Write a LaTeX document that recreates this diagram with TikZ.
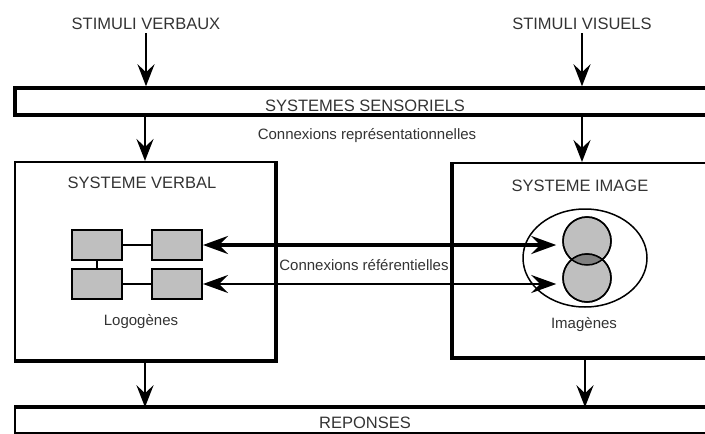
\documentclass[tikz,border=0pt]{standalone}
\usepackage{fontspec}
\setmainfont{Liberation Sans}
\usetikzlibrary{arrows.meta,shapes.geometric}

\begin{document}
\begin{tikzpicture}[x=1pt, y=-1pt,
    caps/.style={text=black!80, font=\fontsize{16.5}{18}\selectfont},
    small/.style={text=black!80, font=\fontsize{15}{17}\selectfont},
    arr/.style={line width=2.5, -{Stealth[length=22pt, width=17pt, inset=8pt]}},
    logo/.style={draw, line width=2, fill=black!25, minimum width=50, minimum height=30},
    blob/.style={circle, draw, line width=1.5, fill=black!25, minimum size=48}]
    \useasboundingbox (0,0) rectangle (705,434);

    \node[caps] (stverb) at (146,24) {STIMULI VERBAUX};
    \node[caps] (stvis) at (582,24) {STIMULI VISUELS};

    \node[draw, line width=3.5, minimum width=697, minimum height=27] (sens) at (363.5,101.5) {};
    \node[caps] (senstext) at (365,106) {SYSTEMES SENSORIELS};
    \node[small] (conrep) at (367,136) {Connexions représentationnelles};

    \node[draw, line width=2, minimum width=260, minimum height=198] (verbal) at (145,261) {};
    \draw[line width=4.5] (verbal.north east) -- (verbal.south east) -- (verbal.south west);
    \node[caps] (verbtitle) at (142,183) {SYSTEME VERBAL};

    \node[draw, line width=2, minimum width=259, minimum height=194] (image) at (582.5,260) {};
    \draw[line width=4.5] (image.north west) -- (image.south west) -- (image.south east);
    \node[caps] (imgtitle) at (580,186) {SYSTEME IMAGE};

    \node[logo] (logoA) at (97,245) {};
    \node[logo] (logoB) at (177,245) {};
    \node[logo] (logoC) at (97,284) {};
    \node[logo] (logoD) at (177,284) {};
    \draw[line width=1.5] (logoA) -- (logoB);
    \draw[line width=1.5] (logoC) -- (logoD);
    \draw[line width=1.5] (logoA) -- (logoC);
    \node[small] (logtext) at (141,322) {Logogènes};

    \node[draw, line width=1.5, ellipse, inner sep=0, minimum width=124, minimum height=98] (imgset) at (585,258) {};
    \node[blob] (imgup) at (587,241) {};
    \node[blob] (imglow) at (587,278) {};
    \begin{scope}
        \clip (587,241) circle (24);
        \fill[black!50] (587,278) circle (24);
    \end{scope}
    \draw[line width=1.5] (587,241) circle (24);
    \draw[line width=1.5] (587,278) circle (24);
    \node[small] (imgtext) at (584,325) {Imagènes};

    \draw[line width=4, {Stealth[length=25pt, width=18pt, inset=9pt]}-{Stealth[length=25pt, width=18pt, inset=9pt]}, shorten >=6]
        (logoB.east) -- (logoB.east -| imgup.west);
    \draw[line width=2, {Stealth[length=25pt, width=18pt, inset=9pt]}-{Stealth[length=25pt, width=18pt, inset=9pt]}, shorten >=6]
        (logoD.east) -- (logoD.east -| imglow.west);
    \node[small] (conref) at (364,265) {Connexions référentielles};

    \node[draw, line width=1.5, minimum width=697, minimum height=25] (rep) at (363.5,420.5) {};
    \draw[line width=4] (rep.north west) -- (rep.north east);
    \node[caps] (reptext) at (365,423) {REPONSES};

    \draw[arr] (stverb.south) -- (stverb.south |- sens.north);
    \draw[arr] (stvis.south) -- (stvis.south |- sens.north);
    \draw[arr] (sens.south -| verbal) -- (verbal.north);
    \draw[arr] (sens.south -| stvis) -- (stvis |- image.north);
    \draw[arr] (verbal.south) -- (verbal.south |- rep.north);
    \draw[arr] (image.south -| imgset) -- (imgset |- rep.north);
\end{tikzpicture}
\end{document}
